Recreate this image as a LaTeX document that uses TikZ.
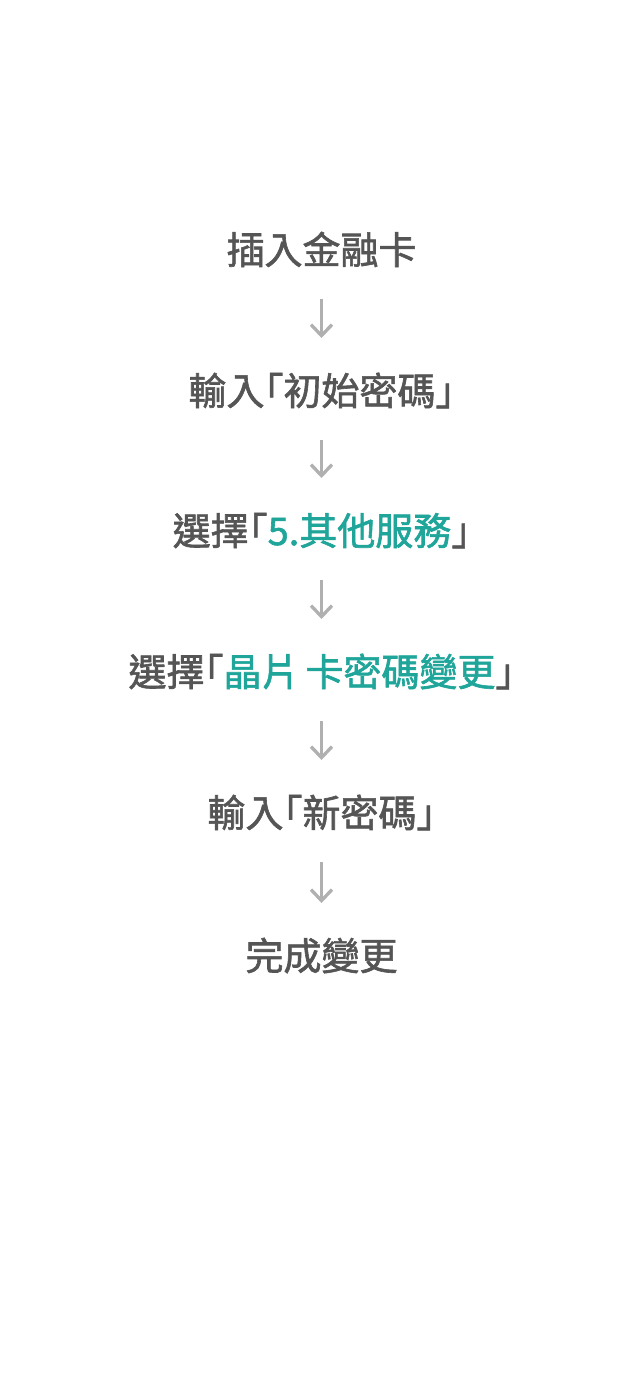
\documentclass[tikz,border=0pt]{standalone}
\usepackage{fontspec}
\usetikzlibrary{arrows.meta}
\newfontfamily\cjk[FakeBold=1.6]{Noto Sans CJK TC}
\newcommand{\lbk}{{\addfontfeature{RawFeature=+halt}「}}
\newcommand{\rbk}{{\addfontfeature{RawFeature=+halt}」}}
\definecolor{txtgray}{HTML}{555555}
\definecolor{teal}{HTML}{1FA599}
\definecolor{arrgray}{HTML}{B0B0B0}
\tikzset{
  stepnode/.style={anchor=base, inner sep=0pt, text=txtgray, font=\cjk\fontsize{38}{38}\selectfont},
  arr/.style={draw=arrgray, line width=3.3pt, -{Straight Barb[length=11pt,width=21pt,line width=3.3pt]}, shorten <=35pt, shorten >=67pt},
}
\begin{document}
\begin{tikzpicture}[x=1pt,y=-1pt]
\useasboundingbox (0,0) rectangle (643,1381);
\fill[white] (0,0) rectangle (643,1381);
\node[stepnode] (n1) at (321.5,264) {插入金融卡};
\node[stepnode] (n2) at (321.5,405) {輸入\lbk 初始密碼\rbk};
\node[stepnode] (n3) at (321.5,545) {選擇\lbk\textcolor{teal}{5.其他服務}\rbk};
\node[stepnode] (n4) at (321.5,686) {選擇\lbk\textcolor{teal}{晶片\hspace{6pt}卡密碼變更}\rbk};
\node[stepnode] (n5) at (321.5,827) {輸入\lbk 新密碼\rbk};
\node[stepnode] (n6) at (321.5,970) {完成變更};
\draw[arr] (n1.base) -- (n2.base);
\draw[arr] (n2.base) -- (n3.base);
\draw[arr] (n3.base) -- (n4.base);
\draw[arr] (n4.base) -- (n5.base);
\draw[arr] (n5.base) -- (n6.base);
\end{tikzpicture}
\end{document}
